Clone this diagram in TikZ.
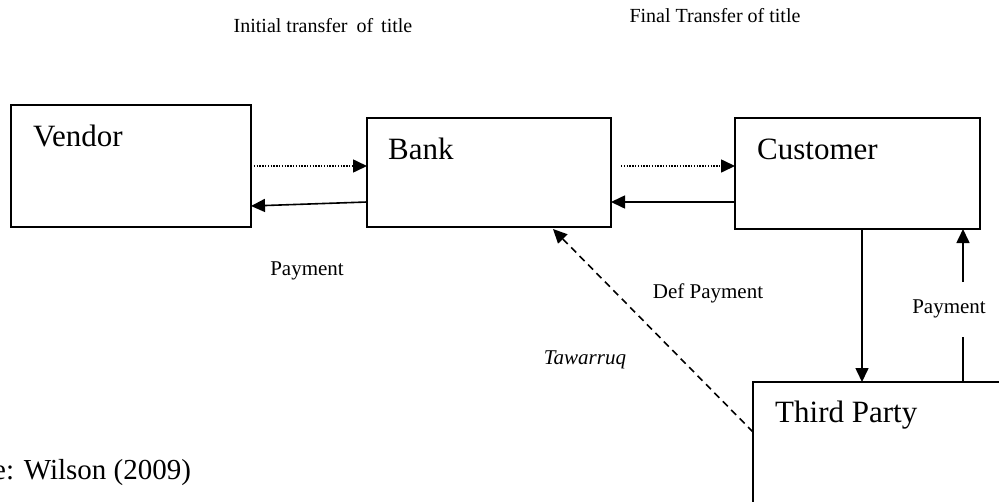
\documentclass[tikz,border=0pt]{standalone}
\usepackage{fontspec}
\setmainfont{Liberation Serif}
\usetikzlibrary{arrows.meta,calc}
\begin{document}
\begin{tikzpicture}[x=1pt,y=-1pt,
  box/.style={draw,line width=1.6pt,inner sep=0pt,outer sep=0pt},
  big/.style={font=\fontsize{31}{36}\selectfont,inner sep=0pt,anchor=base west},
  small/.style={font=\fontsize{21}{25}\selectfont,inner sep=0pt,anchor=base},
  toptxt/.style={font=\fontsize{20}{24}\selectfont,inner sep=0pt,anchor=base},
  conn/.style={line width=1.6pt,-{Triangle[length=14pt,width=13pt]}},
  dotconn/.style={conn,dash pattern=on 1.4pt off 1.4pt},
  dashconn/.style={conn,dash pattern=on 7pt off 5pt}]
\useasboundingbox (0,0) rectangle (999,501);
\clip (0,0) rectangle (999,501);
\fill[white] (0,0) rectangle (999,501);
% boxes
\node[box,minimum width=240pt,minimum height=122pt] (vendor) at (131,166) {};
\node[box,minimum width=244pt,minimum height=109pt] (bank) at (489,172.5) {};
\node[box,minimum width=245pt,minimum height=111pt] (customer) at (857.5,173.5) {};
\node[box,minimum width=260pt,minimum height=140pt] (third) at (883,452) {};
% box texts
\node[big] (tvendor) at (33,146) {Vendor};
\node[big] (tbank) at (388,159) {Bank};
\node[big] (tcustomer) at (757,159) {Customer};
\node[big] (tthird) at (775,422) {Third Party};
% top labels
\node[toptxt] (initial) at (323,32) {Initial transfer\hspace{4pt} of\hspace{3pt} title};
\node[toptxt] (final) at (715,22) {Final Transfer of title};
% other labels
\node[small] (pay1) at (307,275) {Payment};
\node[small] (defpay) at (708,298) {Def Payment};
\node[small,font=\fontsize{21}{25}\selectfont\itshape] (taw) at (585,364) {Tawarruq};
\node[small] (pay2) at (949,313) {Payment};
\node[font=\fontsize{29}{34}\selectfont,inner sep=0pt,anchor=base west] (source) at (-7,479) {e: Wilson (2009)};
% connectors
\draw[dotconn] (vendor.east) -- (vendor.east -| bank.west);
\draw[conn] ($(bank.south west)+(0,-25)$) -- ($(vendor.south east)+(0,-21)$);
\draw[dotconn] ($(bank.north east)+(10,48)$) -- ($(customer.north west)+(0,48)$);
\draw[conn] ($(customer.north west)+(0,84)$) -- ($(bank.north east)+(0,84)$);
\draw[conn] ($(customer.south west)+(127,0)$) coordinate (d1) -- (d1 |- third.north);
\coordinate (g1) at (963,337);
\coordinate (g2) at (963,282);
\draw[line width=1.6pt] (g1 |- third.north) -- (g1);
\draw[conn] (g2) -- (g2 |- customer.south);
\draw[dashconn] ($(third.north west)+(0,50)$) -- ($(bank.south west)+(186,2)$);
\end{tikzpicture}
\end{document}
